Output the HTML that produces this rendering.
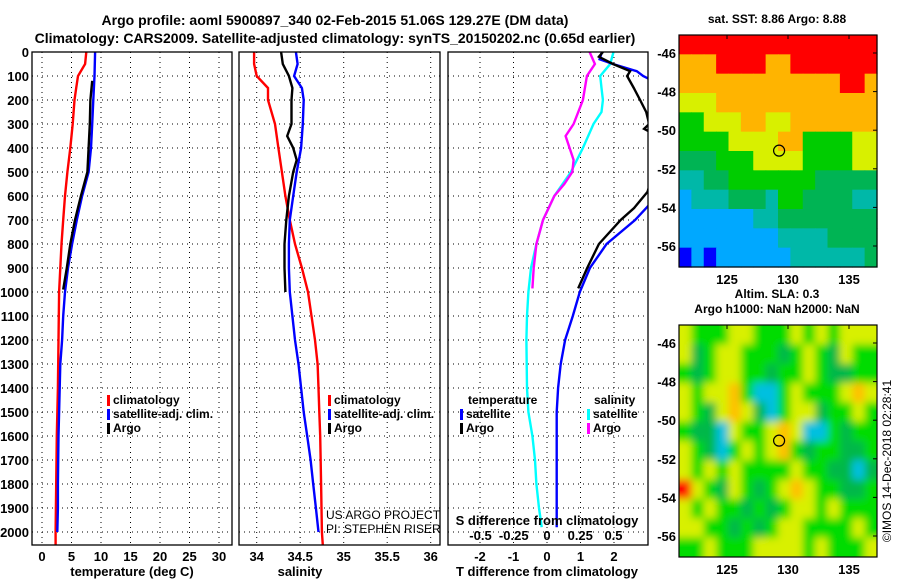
<!DOCTYPE html>
<html><head><meta charset="utf-8"><style>
body{margin:0;background:#fff;}
svg{display:block;font-family:"Liberation Sans",sans-serif;}
.b{font-weight:bold;font-size:13px;}
.n{font-weight:normal;font-size:12px;}
</style></head><body>
<svg id="s" width="900" height="580" viewBox="0 0 900 580">
<defs>
<clipPath id="c1"><rect x="32" y="52" width="200" height="493"/></clipPath>
<clipPath id="c2"><rect x="239" y="52" width="201" height="493"/></clipPath>
<clipPath id="c3"><rect x="448" y="52" width="200" height="493"/></clipPath>
<clipPath id="cm2"><rect x="679" y="325" width="198" height="232"/></clipPath>
<filter id="blur" x="-5%" y="-5%" width="110%" height="110%"><feGaussianBlur stdDeviation="4"/></filter>
</defs>
<text x="335" y="25" text-anchor="middle" class="b" style="font-size:14px">Argo profile: aoml 5900897_340 02-Feb-2015 51.06S 129.27E (DM data)</text>
<text x="335" y="43" text-anchor="middle" class="b" style="font-size:14px">Climatology: CARS2009. Satellite-adjusted climatology: synTS_20150202.nc (0.65d earlier)</text>
</svg>
<script>
const tDepthClim=[0,50,100,150,200,300,400,500,600,700,800,900,1000,1200,1400,1600,1800,2000,2054];
const tempClim=[7.5,7.3,6.1,5.8,5.5,5.2,4.8,4.3,3.9,3.6,3.3,3.1,2.9,2.8,2.7,2.5,2.4,2.3,2.3];
const tDepthSat=[0,100,200,300,400,500,600,700,800,900,1000,1100,1200,1300,1400,1500,1600,1800,1900,2000];
const tempSat=[9.0,8.9,8.7,8.5,8.3,7.9,6.8,5.9,5.1,4.4,3.9,3.6,3.4,3.1,3.0,2.9,2.8,2.7,2.7,2.6];
const tDepthArgo=[120,200,300,400,500,600,700,800,900,990];
const tempArgo=[8.5,8.2,8.1,7.9,7.7,6.6,5.6,4.8,4.2,3.6];
const sDepthClim=[0,50,100,150,200,300,400,500,600,700,800,900,1000,1100,1200,1300,1400,1500,1600,1800,2000,2054];
const salClim=[33.97,33.97,34.0,34.13,34.13,34.21,34.25,34.29,34.33,34.38,34.44,34.52,34.59,34.63,34.67,34.7,34.71,34.72,34.73,34.74,34.75,34.76];
const sDepthSat=[0,50,100,150,200,300,400,500,600,700,800,900,1000,1100,1200,1300,1400,1500,1600,1700,1800,1900,2000];
const salSat=[34.45,34.47,34.43,34.52,34.54,34.53,34.51,34.46,34.42,34.38,34.37,34.37,34.38,34.41,34.44,34.48,34.51,34.54,34.58,34.62,34.65,34.68,34.71];
const sDepthArgo=[0,50,100,150,200,300,350,400,450,500,600,700,800,900,1000];
const salArgo=[34.28,34.3,34.37,34.41,34.4,34.4,34.35,34.42,34.46,34.42,34.37,34.34,34.32,34.32,34.33];
const dDepthSSat=[0,50,100,150,200,250,300,400,500,600,700,800,900,1000,1100,1200,1400,1500,1600,1700,1800,1900,1980];
const sDiffSat=[0.5,0.475,0.4,0.41,0.42,0.41,0.35,0.27,0.18,0.055,-0.03,-0.08,-0.12,-0.14,-0.15,-0.155,-0.15,-0.14,-0.11,-0.09,-0.08,-0.06,-0.04];
const dDepthSArgo=[0,50,100,200,300,350,400,450,500,550,600,700,800,900,985];
const sDiffArgo=[0.32,0.36,0.3,0.27,0.2,0.14,0.17,0.2,0.19,0.13,0.055,-0.03,-0.08,-0.1,-0.11];
const dDepthTSat=[0,30,50,80,100,130,600,700,800,900,1000,1100,1200,1300,1400,1500,1600,1800,1980];
const tDiffSat=[1.64,1.57,1.97,2.68,2.87,3.3,3.3,2.63,1.78,1.28,0.98,0.77,0.54,0.41,0.33,0.29,0.29,0.29,0.29];
const dDepthTArgo=[0,20,50,80,100,150,200,250,300,320,350,450,583,650,700,800,900,985];
const tDiffArgo=[1.67,1.55,1.97,2.48,2.39,2.59,2.78,2.96,3.05,2.9,3.3,3.3,3.0,2.6,2.2,1.55,1.2,0.93];
const depthTicks=[0,100,200,300,400,500,600,700,800,900,1000,1100,1200,1300,1400,1500,1600,1700,1800,1900,2000];
const tempTicks=[0,5,10,15,20,25,30];
const salTicks=[34,34.5,35,35.5,36];
const tdTicks=[-2,-1,0,1,2];
const sdTicks=[-0.5,-0.25,0,0.25,0.5];
const tdLabels=['-2','-1','0','1','2'];
const sdLabels=['-0.5','-0.25','0','0.25','0.5'];
const sstColors=['#ff0000','#ffb400','#d8f000','#00cc00','#00b454','#00b8a8','#00a8ff','#0000ff'];
const sstGrid=[
[0,0,0,0,0,0,0,0,0,0,0,0,0,0,0,0],
[1,1,1,0,0,0,0,1,1,0,0,0,0,0,0,0],
[1,1,1,1,1,1,1,1,1,1,1,1,1,0,0,1],
[2,2,2,1,1,1,1,1,1,1,1,1,1,1,1,1],
[3,3,2,2,2,1,1,2,2,1,1,1,1,1,1,1],
[3,3,3,3,2,2,2,2,1,1,3,3,3,3,2,2],
[4,4,4,3,3,3,2,2,2,2,3,3,3,3,2,2],
[5,5,4,4,3,3,3,3,3,3,3,4,4,4,4,4],
[6,5,5,5,4,4,4,5,3,3,4,4,4,4,5,5],
[6,6,6,6,6,6,5,5,4,4,4,4,4,4,4,4],
[6,6,6,6,6,6,6,6,5,5,5,5,4,4,4,4],
[7,6,7,6,6,6,6,6,6,5,5,5,5,5,5,4]];
const slaColors={g:'#00dc00',d:'#00b848',y:'#d8f000',o:'#ffc000',c:'#00c0e0',r:'#ff0000'};
const slaGrid=[
'ygggyygggygygyyy','ydgyygggdgygdygg','gdgyyggdggygddgg','ygyyogccgygggyoy',
'ygdyoydcgyydggyg','gddcyggyoyccgdgg','ygdcgygyogdggddg','ygygyggggyggddcd',
'rygdygdgyoyggddg','ygyggdgdgyygyggg','yyggdgdgyyggggyg','ggygggyyyygygggy'];
const ySt={y0:52,k:0.24};
function dy(d){return ySt.y0+ySt.k*d;}
const xT=v=>42+5.9*v, xS=v=>256.7+87*(v-34), xTD=v=>547+33.5*v, xSD=v=>547+133*v;
const S=document.getElementById('s'), NS='http://www.w3.org/2000/svg';
function el(t,a,p){const e=document.createElementNS(NS,t);for(const k in a)e.setAttribute(k,a[k]);(p||S).appendChild(e);return e;}
function txt(x,y,s,anchor,cls,extra){const e=el('text',Object.assign({x:x,y:y,'text-anchor':anchor||'start',class:cls||'b'},extra||{}));e.textContent=s;return e;}
function step(xs,ds,fx){let p='';for(let i=0;i<xs.length;i++){p+=(i?'L':'M')+fx(xs[i]).toFixed(1)+' '+dy(ds[i]).toFixed(1);}return p;}
function panel(x0,x1,name,xticks,fx){
  const g=el('g',{});
  
  
  depthTicks.slice(1).forEach(d=>{const l=el('line',{x1:x0,x2:x1,y1:dy(d),y2:dy(d),stroke:'#000','stroke-width':1,'stroke-dasharray':'1 4'},g);});
  xticks.forEach(v=>{const l=el('line',{x1:fx(v),x2:fx(v),y1:52,y2:545,stroke:'#000','stroke-width':1,'stroke-dasharray':'1 4'},g);});
  return g;
}
function line(g,xs,ds,fx,col,name,clip){const p=el('path',{d:step(xs,ds,fx),fill:'none',stroke:col,'stroke-width':2.4,'clip-path':'url(#'+clip+')'},g);}
function frame(x0,x1,name){const r=el('rect',{x:x0,y:52,width:x1-x0,height:493,fill:'none',stroke:'#000','stroke-width':1.3});}
function legend(x,y,col,label){const m=el('rect',{x:x,y:y-9,width:3,height:11,fill:col});const t=txt(x+6,y,label,'start','b',{style:'font-size:12px'});}

let g1=panel(32,232,'temperature-panel',tempTicks,xT);
line(g1,tempClim,tDepthClim,xT,'#ff0000','temp-climatology-line','c1');
line(g1,tempSat,tDepthSat,xT,'#0000ff','temp-satellite-line','c1');
line(g1,tempArgo,tDepthArgo,xT,'#000000','temp-argo-line','c1');
frame(32,232,'temperature-axes');
depthTicks.forEach(d=>{const t=txt(29,dy(d)+5,String(d),'end');});
tempTicks.forEach(v=>{const t=txt(xT(v),561,String(v),'middle');});
let a1=txt(132,576,'temperature (deg C)','middle');
legend(107,404,'#ff0000','climatology');legend(107,418,'#0000ff','satellite-adj. clim.');legend(107,432,'#000000','Argo');

let g2=panel(239,440,'salinity-panel',salTicks,xS);
line(g2,salClim,sDepthClim,xS,'#ff0000','sal-climatology-line','c2');
line(g2,salSat,sDepthSat,xS,'#0000ff','sal-satellite-line','c2');
line(g2,salArgo,sDepthArgo,xS,'#000000','sal-argo-line','c2');
frame(239,440,'salinity-axes');
salTicks.forEach(v=>{const t=txt(xS(v),561,String(v),'middle');});
let a2=txt(300,576,'salinity','middle');
legend(328,404,'#ff0000','climatology');legend(328,418,'#0000ff','satellite-adj. clim.');legend(328,432,'#000000','Argo');
let c1=txt(326,519,'US ARGO PROJECT','start','n');
let c2=txt(326,533,'PI: STEPHEN RISER','start','n');

let g3=panel(448,648,'difference-panel',tdTicks,xTD);
line(g3,sDiffSat,dDepthSSat,xSD,'#00ffff','sal-diff-satellite-line','c3');
line(g3,sDiffArgo,dDepthSArgo,xSD,'#ff00ff','sal-diff-argo-line','c3');
line(g3,tDiffSat,dDepthTSat,xTD,'#0000ff','temp-diff-satellite-line','c3');
line(g3,tDiffArgo,dDepthTArgo,xTD,'#000000','temp-diff-argo-line','c3');
frame(448,648,'difference-axes');
tdTicks.forEach((v,i)=>{const t=txt(xTD(v),561,tdLabels[i],'middle');});
sdTicks.forEach((v,i)=>{const t=txt(xSD(v),540,sdLabels[i],'middle');});
let a3=txt(547,525,'S difference from climatology','middle');
let a4=txt(547,576,'T difference from climatology','middle');
let l1=txt(468,404,'temperature','start','b',{style:'font-size:12px'});
let l2=txt(594,404,'salinity','start','b',{style:'font-size:12px'});
legend(460,418,'#0000ff','satellite');legend(460,432,'#000000','Argo');
legend(587,418,'#00ffff','satellite');legend(587,432,'#ff00ff','Argo');

const lonX=v=>727+12.2*(v-125);
function map(y0,name,draw,titles,smooth){
  const g=el('g',{});
  
  
  const outer=smooth?el('g',{'clip-path':'url(#cm2)'},g):g;
  const cells=smooth?el('g',{filter:'url(#blur)'},outer):g;
  const cw=198/16, ch=232/12;
  for(let r=0;r<12;r++)for(let c=0;c<16;c++){
    const col=draw(r,c);
    const ext=smooth?8:0;
    const x=679+c*cw-(c===0?ext:0), y=y0+r*ch-(r===0?ext:0);
    const w=cw+0.6+(c===0||c===15?ext:0), h=ch+0.6+(r===0||r===11?ext:0);
    const rc=el('rect',{x:x.toFixed(2),y:y.toFixed(2),width:w.toFixed(2),height:h.toFixed(2),fill:col},cells);
    
    
  }
  const fr=el('rect',{x:679,y:y0,width:198,height:232,fill:'none',stroke:'#000','stroke-width':1.2},g);
  
  const latY=v=>y0+18+19.3*(-46-v);
  [-46,-48,-50,-52,-54,-56].forEach(v=>{
    const t=txt(676,latY(v)+5,String(v),'end');
    el('line',{x1:873,x2:877,y1:latY(v),y2:latY(v),stroke:'#000'},g);
  });
  [125,130,135].forEach(v=>{
    const t=txt(lonX(v),y0+249,String(v),'middle');
    el('line',{x1:lonX(v),x2:lonX(v),y1:y0,y2:y0+4,stroke:'#000'},g);
  });
  const m=el('circle',{cx:lonX(129.27),cy:latY(-51.06),r:5.5,fill:'none',stroke:'#000','stroke-width':1.2},g);
  
  titles.forEach((s,i)=>{const t=txt(777,y0-12-(titles.length-1-i)*15,s,'middle','b',{style:'font-size:12px'});});
}
map(35,'sst-map',(r,c)=>sstColors[sstGrid[r][c]],['sat. SST: 8.86 Argo: 8.88'],false);
map(325,'sla-map',(r,c)=>slaColors[slaGrid[r][c]],['Altim. SLA: 0.3','Argo h1000: NaN h2000: NaN'],true);
const cp=txt(891,461,'©IMOS 14-Dec-2018 02:28:41','middle','n',{transform:'rotate(-90 891 461)'});


</script>
</body></html>
